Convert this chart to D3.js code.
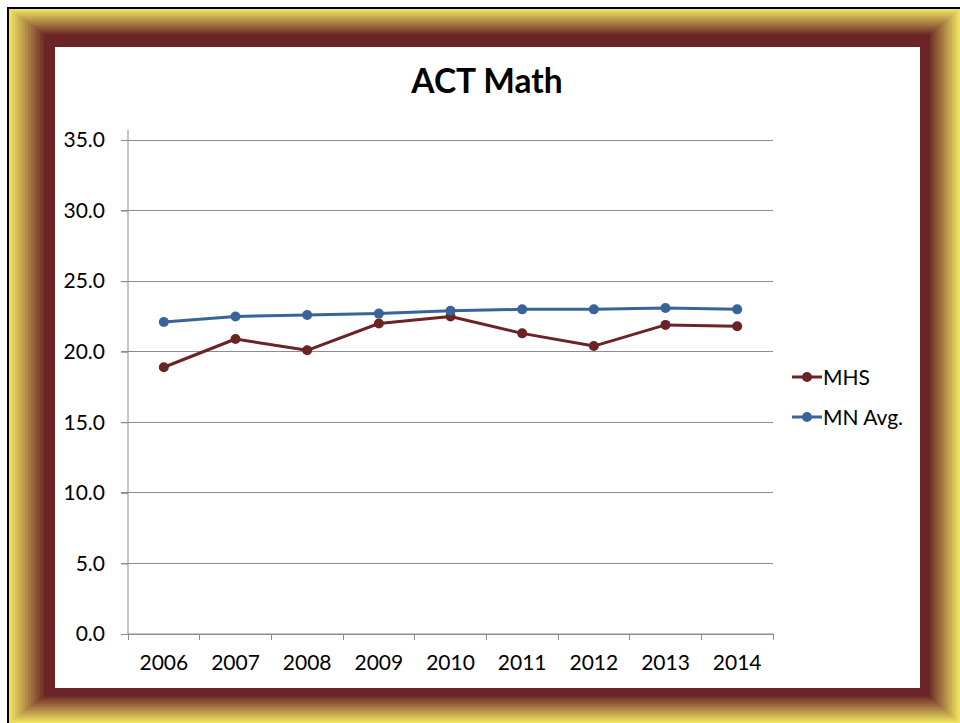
<!DOCTYPE html>
<html><head><meta charset="utf-8">
<script src="https://cdn.jsdelivr.net/npm/d3@7"></script>
<style>body{margin:0;background:#fff;}svg{display:block;}</style>
</head><body>
<script>
const years = ["2006","2007","2008","2009","2010","2011","2012","2013","2014"];
const mhs = [18.9, 20.9, 20.1, 22.0, 22.5, 21.3, 20.4, 21.9, 21.8];
const mnAvg = [22.1, 22.5, 22.6, 22.7, 22.9, 23.0, 23.0, 23.1, 23.0];
const yTicks = [0, 5, 10, 15, 20, 25, 30, 35];
const seriesNames = ["MHS", "MN Avg."];
const seriesColors = ["#6b2324", "#386499"];

const W = 960, H = 723;
const svg = d3.select("body").append("svg").attr("width", W).attr("height", H);
const font = "Lato, 'Open Sans', sans-serif";

// frame background
svg.append("rect").attr("x",0).attr("y",0).attr("width",W).attr("height",H).attr("fill","#fff");
svg.append("rect").attr("x",7).attr("y",7).attr("width",W).attr("height",H).attr("fill","#000");
const nb = 12;
const colorI = d3.interpolateRgb("#ece060", "#6b2526");
const outer = {l:9, t:9, r:960, b:723};
const inner = {l:55, t:47, r:920, b:688};
for (let i = 0; i < nb; i++) {
  const f = i / nb;
  const g = i / (nb - 1);
  const l = outer.l + (inner.l - outer.l) * f * 0.82;
  const t = outer.t + (inner.t - outer.t) * f * 0.72;
  const r = outer.r + (inner.r - outer.r) * f * 0.82;
  const b = outer.b + (inner.b - outer.b) * f * 0.82;
  svg.append("rect").attr("x", l).attr("y", t).attr("width", r - l).attr("height", b - t)
    .attr("fill", colorI(g));
}
svg.append("rect").attr("x", inner.l).attr("y", inner.t)
  .attr("width", inner.r - inner.l).attr("height", inner.b - inner.t).attr("fill", "#fff");

// title
svg.append("text").attr("x", 487).attr("y", 93).attr("text-anchor","middle")
  .attr("font-family", font).attr("font-weight","bold").attr("font-size", 33.5)
  .attr("fill","#000").text("ACT Math");

const x0 = 128, x1 = 773, y0 = 634, y1 = 140;
const x = d3.scaleBand().domain(years).range([x0, x1]);
const y = d3.scaleLinear().domain([0, 35]).range([y0, y1]);

// gridlines
svg.append("g").selectAll("line").data(yTicks).join("line")
  .attr("x1", x0 - 7).attr("x2", x1).attr("y1", d => y(d)).attr("y2", d => y(d))
  .attr("stroke", "#8c8c8c").attr("stroke-width", 1).attr("shape-rendering","crispEdges");

// y axis
const yAxis = svg.append("g").attr("transform", `translate(${x0},0)`)
  .call(d3.axisLeft(y).tickValues(yTicks).tickFormat(d3.format(".1f")).tickSize(7).tickPadding(16));
yAxis.select(".domain").attr("stroke","#8c8c8c").attr("d", `M0,${y1-10}V${y0}`);
yAxis.selectAll(".tick line").attr("stroke","#8c8c8c");
yAxis.selectAll("text").attr("font-family", font).attr("font-size", 21).attr("fill","#000");

// x axis
const xAxis = svg.append("g").attr("transform", `translate(0,${y0})`)
  .call(d3.axisBottom(x).tickSize(0).tickPadding(21));
xAxis.select(".domain").attr("stroke","#8c8c8c").attr("d", `M${x0},0H${x1}`);
xAxis.selectAll("text").attr("font-family", font).attr("font-size", 21).attr("fill","#000");
const bounds = years.map(d => x(d)).concat([x1]);
svg.append("g").selectAll("line").data(bounds).join("line")
  .attr("x1", d => d).attr("x2", d => d).attr("y1", y0).attr("y2", y0 + 6)
  .attr("stroke", "#8c8c8c").attr("shape-rendering","crispEdges");

// series
const series = [mhs, mnAvg];
const line = d3.line().x((d, i) => x(years[i]) + x.bandwidth() / 2).y(d => y(d));
series.forEach((vals, si) => {
  const g = svg.append("g");
  g.append("path").datum(vals).attr("d", line).attr("fill","none")
    .attr("stroke", seriesColors[si]).attr("stroke-width", 3).attr("stroke-linejoin","round");
  g.selectAll("circle").data(vals).join("circle")
    .attr("cx", (d, i) => x(years[i]) + x.bandwidth() / 2).attr("cy", d => y(d))
    .attr("r", 5).attr("fill", seriesColors[si]);
});

// legend
const legY = [377, 417];
seriesNames.forEach((n, i) => {
  const g = svg.append("g");
  g.append("line").attr("x1", 792).attr("x2", 822).attr("y1", legY[i]).attr("y2", legY[i])
    .attr("stroke", seriesColors[i]).attr("stroke-width", 3);
  g.append("circle").attr("cx", 807).attr("cy", legY[i]).attr("r", 5).attr("fill", seriesColors[i]);
  g.append("text").attr("x", 823).attr("y", legY[i] + 7.5).attr("font-family", font)
    .attr("font-size", 21).attr("fill","#000").text(n);
});
</script>
</body></html>
